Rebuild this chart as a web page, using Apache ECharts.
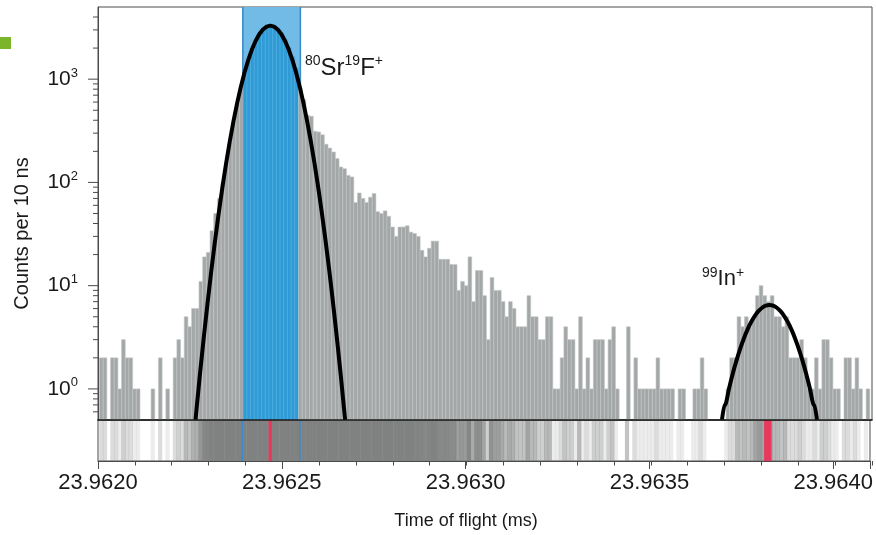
<!DOCTYPE html>
<html><head><meta charset="utf-8">
<script src="https://cdn.jsdelivr.net/npm/echarts@6/dist/echarts.min.js"></script>
<style>html,body{margin:0;padding:0;background:#fff}#c{width:876px;height:535px}</style>
</head><body><div id="c"></div>
<script>
// ---- data ----
const binStart = 23.962004;   // left edge of first 10 ns bin (ms)
const binWidth = 0.00001;     // 10 ns in ms
const counts = [
  2,2,0,2,2,1,3,2,2,1, 1,0,0,0,1,0,2,0,1,0,
  2,3,2,5,4,6,6,11,19,21, 34,50,70,100,155,245,385,570,830,1150,
  1520,1920,2330,2720,3020,3220,3300,3260,3080,2790, 2420,2030,1650,1280,812,635,447,437,313,308,
  290,234,215,197,170,141,136,117,113,64, 79,70,64,72,78,52,50,53,47,37,
  30,37,37,38,33,32,30,22,19,23, 27,27,18,18,18,16,16,9,11,10,
  19,7,14,14,8,3,12,9,9,7, 5,7,6,4,4,4,8,5,5,3,
  3,5,5,1,1,2,4,3,3,1, 5,1,2,1,3,3,3,1,3,4,
  1,0,0,4,0,2,1,1,1,1, 1,2,1,1,1,1,0,1,1,0,
  0,1,1,2,1,0,0,0,0,0, 1,2,2,5,4,5,4,5,8,10,
  8,7,8,5,5,4,5,2,2,2, 3,2,1,1,2,1,3,3,2,1,
  1,0,2,2,1,2,1,0,1
];
const band = [23.962393, 23.962549];                 // selected time window
const centroidMarks = [[23.962464, 23.962473], [23.963812, 23.963832]];
const fitSrF_x = [23.9622645,23.9622675,23.9622775,23.9622875,23.9622975,23.9623075,23.9623175,23.9623275,23.9623375,23.9623475,23.9623575,23.9623675,23.9623775,23.9623875,23.9623975,23.9624075,23.9624175,23.9624275,23.9624375,23.9624475,23.9624575,23.9624675,
  23.9624775,23.9624875,23.9624975,23.9625075,23.9625175,23.9625275,23.9625375,23.9625475,23.9625575,23.9625675,23.9625775,23.9625875,23.9625975,23.9626075,23.9626175,23.9626275,23.9626375,23.9626475,23.9626575,23.9626675,23.9626705];
const fitSrF_y = [0.5,0.646,1.49,3.27,6.9,14.0,27.1,50.3,89.5,152.6,249,390,586,842,1160,1531,1935,2345,2723,3030,3230,3300,
  3230,3030,2723,2345,1935,1531,1160,842,586,390,249,152.6,89.5,50.3,27.1,14.0,6.9,3.27,1.49,0.646,0.5];
const fitIn_x = [23.9636929,23.9636998,23.9637018,23.9637118,23.9637218,23.9637318,23.9637418,23.9637518,23.9637618,23.9637718,23.9637818,23.9637918,23.9638018,23.9638118,23.9638218,
  23.9638318,23.9638418,23.9638518,23.9638618,23.9638718,23.9638818,23.9638918,23.9639018,23.9639118,23.9639218,23.9639318,23.9639418,23.9639438,23.9639507];
const fitIn_y = [0.5,0.7,0.7,1.0,1.39,1.86,2.42,3.05,3.73,4.42,5.08,5.66,6.11,6.40,6.5,
  6.40,6.11,5.66,5.08,4.42,3.73,3.05,2.42,1.86,1.39,1.0,0.7,0.7,0.5];
const xTicks = [23.9620, 23.9625, 23.9630, 23.9635, 23.9640];
const xTickLabels = ['23.9620', '23.9625', '23.9630', '23.9635', '23.9640'];
const yDecades = [1, 10, 100, 1000];
const yExponents = ['0', '1', '2', '3'];
const yMinorTicks = [0.6,0.7,0.8,0.9, 2,3,4,5,6,7,8,9, 20,30,40,50,60,70,80,90, 200,300,400,500,600,700,800,900, 2000,3000,4000];
const peakLabels = [
  {sup1: '80', main1: 'Sr', sup2: '19', main2: 'F', sup3: '+'},
  {sup1: '99', main1: 'In', sup3: '+'}
];

// ---- layout ----
const X_MIN = 23.9620, X_MAX = 23.9641, Y_MIN = 0.5, Y_MAX = 5000;
const FONT = '"Liberation Sans", Arial, Helvetica, sans-serif';
const chart = echarts.init(document.getElementById('c'), null, {renderer: 'canvas'});

const barData = [];
counts.forEach((c, i) => { if (c > 0) barData.push([binStart + i * binWidth, c]); });
const rugData = counts.map((c, i) => [binStart + i * binWidth, c]);

function inBand(x) { const m = x + binWidth / 2; return m >= band[0] && m <= band[1]; }

const gridL = 98, gridW = 774;
const option = {
  animation: false,
  textStyle: {fontFamily: FONT},
  grid: [
    {left: gridL, top: 7, width: gridW, height: 413, show: true, borderColor: '#4a4a4a', borderWidth: 1, backgroundColor: 'transparent'},
    {left: gridL, top: 420, width: gridW, height: 41, show: true, borderColor: '#4a4a4a', borderWidth: 1, backgroundColor: 'transparent'},
    {left: gridL, top: 420, width: gridW, height: 41}
  ],
  xAxis: [
    {gridIndex: 0, type: 'value', min: X_MIN, max: X_MAX, axisLine: {lineStyle: {color: '#1a1a1a', width: 1.6}},
     axisTick: {show: false}, axisLabel: {show: false}, splitLine: {show: false}, z: 20},
    {gridIndex: 1, type: 'value', min: X_MIN, max: X_MAX, interval: 0.0005,
     axisLine: {lineStyle: {color: '#4a4a4a', width: 1}},
     axisTick: {length: 8, lineStyle: {color: '#4a4a4a', width: 1}},
     axisLabel: {margin: 11, fontSize: 22, color: '#1a1a1a', fontFamily: FONT,
       formatter: v => { const k = xTicks.findIndex(t => Math.abs(t - v) < 1e-8); return k >= 0 ? xTickLabels[k] : ''; }},
     splitLine: {show: false},
     name: 'Time of flight (ms)', nameLocation: 'middle', nameGap: 51,
     nameTextStyle: {fontSize: 18, color: '#1a1a1a', fontFamily: FONT, padding: [0, 36, 0, 0]}},
    {gridIndex: 2, type: 'value', min: X_MIN, max: X_MAX, interval: 0.0001,
     axisLine: {show: false}, axisTick: {length: 4.5, lineStyle: {color: '#4a4a4a', width: 1}},
     axisLabel: {show: false}, splitLine: {show: false}}
  ],
  yAxis: [
    {gridIndex: 0, type: 'log', logBase: 10, min: Y_MIN, max: Y_MAX,
     axisLine: {show: true, lineStyle: {color: '#4a4a4a', width: 1}},
     axisTick: {show: false}, splitLine: {show: false}, minorTick: {show: false},
     axisLabel: {margin: 20, color: '#1a1a1a',
       formatter: v => { const k = yDecades.findIndex(d => Math.abs(d - v) / d < 1e-6); return k >= 0 ? '{b|10}{s|' + yExponents[k] + '}' : ''; },
       rich: {b: {fontSize: 21, lineHeight: 25, fontFamily: FONT, color: '#1a1a1a'},
              s: {fontSize: 13, lineHeight: 13, verticalAlign: 'top', fontFamily: FONT, color: '#1a1a1a'}}},
     name: 'Counts per 10 ns', nameLocation: 'middle', nameGap: 66,
     nameTextStyle: {fontSize: 20, color: '#1a1a1a', fontFamily: FONT, padding: [0, 40, 0, 0]}},
    {gridIndex: 1, type: 'value', min: 0, max: 1, show: false},
    {gridIndex: 2, type: 'value', min: 0, max: 1, show: false}
  ],
  series: [
    { // selected window (band)
      type: 'custom', xAxisIndex: 0, yAxisIndex: 0, z: 1, silent: true,
      data: [band],
      renderItem: (params, api) => {
        const p0 = api.coord([band[0], Y_MAX]), p1 = api.coord([band[1], Y_MIN]);
        return {type: 'group', children: [
          {type: 'rect', shape: {x: p0[0], y: p0[1], width: p1[0] - p0[0], height: p1[1] - p0[1]}, style: {fill: '#72bbe7'}},
          {type: 'line', z2: 10, shape: {x1: p0[0], y1: p0[1], x2: p0[0], y2: p1[1]}, style: {stroke: '#3b8ccd', lineWidth: 1.6}},
          {type: 'line', z2: 10, shape: {x1: p1[0], y1: p0[1], x2: p1[0], y2: p1[1]}, style: {stroke: '#3b8ccd', lineWidth: 1.6}}
        ]};
      }
    },
    { // histogram
      type: 'custom', xAxisIndex: 0, yAxisIndex: 0, z: 2, silent: true, clip: true,
      data: barData,
      renderItem: (params, api) => {
        const x = api.value(0), c = api.value(1);
        const p0 = api.coord([x, c]), p1 = api.coord([x + binWidth, Y_MIN]);
        const blue = inBand(x);
        return {type: 'rect', shape: {x: p0[0], y: p0[1], width: p1[0] - p0[0], height: p1[1] - p0[1]},
          style: {fill: blue ? '#2e9bd6' : '#a3a7a7', stroke: blue ? '#55b0e0' : '#c3c6c6', lineWidth: 0.6}};
      }
    },
    {type: 'line', xAxisIndex: 0, yAxisIndex: 0, z: 5, showSymbol: false, silent: true, clip: true,
     data: fitSrF_x.map((x, i) => [x, fitSrF_y[i]]), lineStyle: {color: '#000', width: 4}},
    {type: 'line', xAxisIndex: 0, yAxisIndex: 0, z: 5, showSymbol: false, silent: true, clip: true, smooth: 0.2,
     data: fitIn_x.map((x, i) => [x, fitIn_y[i]]), lineStyle: {color: '#000', width: 4}},
    { // y axis ticks (major decades + log minor ticks)
      type: 'custom', xAxisIndex: 0, yAxisIndex: 0, z: 6, silent: true, clip: false,
      data: yDecades.map(v => [v, 1]).concat(yMinorTicks.map(v => [v, 0])),
      renderItem: (params, api) => {
        const p = api.coord([X_MIN, api.value(0)]);
        const len = api.value(1) ? 10 : 5;
        return {type: 'line', shape: {x1: p[0] - len, y1: p[1], x2: p[0], y2: p[1]}, style: {stroke: '#4a4a4a', lineWidth: 1}};
      }
    },
    { // event rug (density strip)
      type: 'custom', xAxisIndex: 1, yAxisIndex: 1, z: 2, silent: true, clip: true,
      data: rugData,
      renderItem: (params, api) => {
        const x = api.value(0), c = api.value(1);
        if (!c) return null;
        const p0 = api.coord([x, 1]), p1 = api.coord([x + binWidth, 0]);
        const a = 1 - Math.pow(0.85, c);
        return {type: 'rect', shape: {x: p0[0] - 0.25, y: p0[1], width: p1[0] - p0[0] + 0.5, height: p1[1] - p0[1]},
          style: {fill: 'rgba(128,129,129,' + a.toFixed(3) + ')'}};
      }
    },
    { // band edges in strip
      type: 'custom', xAxisIndex: 1, yAxisIndex: 1, z: 3, silent: true,
      data: band.map(b => [b]),
      renderItem: (params, api) => {
        const p0 = api.coord([api.value(0), 1]), p1 = api.coord([api.value(0), 0]);
        return {type: 'line', shape: {x1: p0[0], y1: p0[1], x2: p1[0], y2: p1[1]}, style: {stroke: '#3b8ccd', lineWidth: 1.6}};
      }
    },
    { // fitted centroid markers
      type: 'custom', xAxisIndex: 1, yAxisIndex: 1, z: 4, silent: true,
      data: centroidMarks,
      renderItem: (params, api) => {
        const p0 = api.coord([api.value(0), 1]), p1 = api.coord([api.value(1), 0]);
        return {type: 'rect', shape: {x: p0[0], y: p0[1], width: p1[0] - p0[0], height: p1[1] - p0[1]}, style: {fill: '#e8395c'}};
      }
    }
  ],
  graphic: [
    {type: 'rect', left: 0, top: 37, shape: {width: 11, height: 12}, style: {fill: '#7ab52a'}},
    {type: 'text', x: 305, y: 54, style: {
      text: '{s|' + peakLabels[0].sup1 + '}{m|' + peakLabels[0].main1 + '}{s|' + peakLabels[0].sup2 + '}{m|' + peakLabels[0].main2 + '}{s|' + peakLabels[0].sup3 + '}',
      verticalAlign: 'top', align: 'left',
      rich: {m: {fontSize: 24, lineHeight: 29, fontFamily: FONT, fill: '#1a1a1a'},
             s: {fontSize: 14, lineHeight: 15, verticalAlign: 'top', fontFamily: FONT, fill: '#1a1a1a'}}}},
    {type: 'text', x: 702, y: 266, style: {
      text: '{s|' + peakLabels[1].sup1 + '}{m|' + peakLabels[1].main1 + '}{s|' + peakLabels[1].sup3 + '}',
      verticalAlign: 'top', align: 'left',
      rich: {m: {fontSize: 22, lineHeight: 26, fontFamily: FONT, fill: '#1a1a1a'},
             s: {fontSize: 14, lineHeight: 15, verticalAlign: 'top', fontFamily: FONT, fill: '#1a1a1a'}}}}
  ]
};
chart.setOption(option);
</script>
</body></html>
